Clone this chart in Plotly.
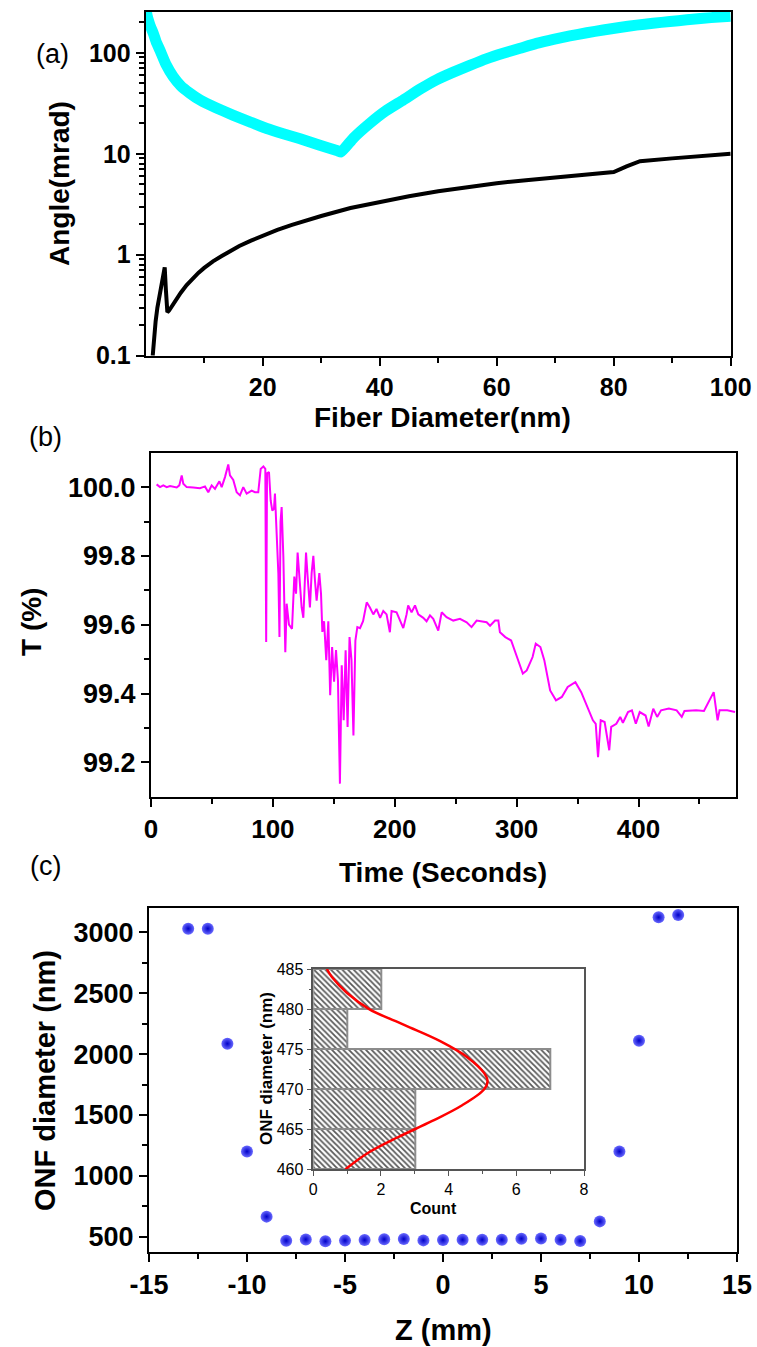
import plotly.graph_objects as go

W, H = 757, 1347

# ---------------- Panel (a) data ----------------
cyan_x = [0.1, 0.17, 0.7, 1.3, 1.8, 2.44, 3.5, 4.7, 6.0, 7.5, 9.3, 12.0, 15.0, 18.0, 20.7, 23.5,
          26.4, 29.5, 32.8, 33.4, 35.5, 38.3, 41.0, 44.0, 47.0, 49.7, 52.5, 55.4, 58.2, 61.1,
          64.0, 66.8, 69.7, 72.5, 75.4, 78.2, 81.0, 83.9, 86.7, 89.6, 92.5, 95.3, 98.0, 100.0]
cyan_y = [320, 246, 190, 156, 128, 106, 76, 58, 47, 40, 34, 28.5, 24, 20.5, 17.8, 15.8,
          14.1, 12.3, 10.7, 10.4, 14.3, 20, 26.5, 34, 44, 54, 64, 75, 87, 99,
          111, 124, 136, 147, 158, 168, 178, 188, 196, 204, 212, 220, 226, 230]

black_x = [1.2, 1.4, 1.7, 2.0, 2.4, 2.8, 3.1, 3.25, 3.45, 3.7, 4.0, 4.5, 5, 6, 7, 8, 9, 10,
           11.5, 13, 14.5, 16, 18, 20, 22.5, 25, 27.5, 30, 35, 40, 45, 50, 55, 60, 65, 70,
           75, 80, 82.2, 84.5, 90, 95, 100]
black_y = [0.1, 0.15, 0.22, 0.3, 0.42, 0.56, 0.7, 0.75, 0.45, 0.27, 0.28, 0.31, 0.35, 0.42,
           0.5, 0.58, 0.66, 0.74, 0.86, 0.97, 1.09, 1.22, 1.38, 1.55, 1.76, 1.98, 2.2, 2.42,
           2.9, 3.35, 3.8, 4.25, 4.68, 5.1, 5.48, 5.85, 6.22, 6.6, 7.5, 8.45, 9.0, 9.5, 10.0]

a_yticks = [0.1, 1, 10, 100]
a_yticktext = ["0.1", "1", "10", "100"]
a_xticks = [20, 40, 60, 80, 100]

# ---------------- Panel (b) data ----------------
time_s = [4.6, 7.4, 10.1, 12.9, 15.6, 18.3, 21.1, 23.2, 25.2, 26.5, 29.3, 34.7, 40.2, 44.3, 47.0,
          49.8, 52.5, 56.1, 58.0, 60.7, 63.4, 64.8, 67.5, 70.3, 73.0, 75.7, 78.5, 82.6, 85.3,
          88.0, 90.0, 92.2, 93.8, 94.5, 95.2, 96.8, 98.2, 99.5, 100.9, 101.7, 103.1, 104.5,
          105.4, 106.3, 107.2, 108.6, 110.2, 111.3, 113.2, 115.7, 117.6, 119.0, 120.3, 122.2,
          123.6, 125.0, 127.2, 128.5, 130.4, 131.8, 133.2, 134.5, 135.9, 138.1, 139.5, 140.6,
          142.0, 143.8, 145.5, 147.0, 148.6, 150.2, 151.8, 153.4, 155.0, 156.5, 158.1, 159.7,
          161.3, 162.9, 164.5, 166.1, 167.7, 169.3, 171.5, 174.0, 177.0, 179.6, 182.4, 185.0,
          188.0, 190.6, 193.3, 196.0, 197.4, 201.5, 204.3, 207.0, 209.7, 211.0, 213.8, 216.6,
          219.3, 223.4, 226.1, 228.9, 231.6, 235.7, 238.5, 242.5, 248.0, 253.5, 259.0, 263.0,
          267.2, 275.4, 278.2, 282.3, 285.0, 286.3, 290.7, 295.5, 300.3, 305.1, 308.3, 313.1,
          315.7, 319.5, 322.7, 327.5, 332.3, 337.1, 341.9, 348.2, 353.0, 359.4, 362.6, 364.9,
          366.8, 369.0, 372.2, 376.0, 377.6, 381.8, 385.0, 387.2, 391.4, 394.6, 397.8, 401.0,
          405.8, 408.3, 412.1, 415.3, 418.5, 424.9, 431.3, 435.5, 437.7, 447.3, 453.7, 461.7,
          464.9, 466.5, 472.8, 479.2]
trans_pct = [100.008, 100.000, 100.005, 100.000, 100.003, 100.002, 99.999, 100.005, 100.034,
             100.010, 100.000, 99.999, 99.997, 100.002, 99.985, 100.005, 99.995, 100.017,
             100.000, 100.029, 100.066, 100.034, 100.021, 99.985, 99.976, 100.000, 99.981,
             99.990, 99.985, 99.985, 100.053, 100.060, 100.053, 99.550, 100.040, 100.044,
             99.961, 99.932, 99.937, 99.981, 99.845, 99.748, 99.564, 99.900, 99.942, 99.797,
             99.520, 99.661, 99.600, 99.588, 99.740, 99.690, 99.810, 99.700, 99.650, 99.620,
             99.810, 99.740, 99.650, 99.750, 99.800, 99.730, 99.670, 99.750, 99.690, 99.579,
             99.610, 99.497, 99.610, 99.395, 99.535, 99.434, 99.526, 99.438, 99.138, 99.482,
             99.322, 99.526, 99.303, 99.564, 99.497, 99.278, 99.554, 99.593, 99.590, 99.610,
             99.665, 99.650, 99.630, 99.646, 99.620, 99.640, 99.630, 99.578, 99.640, 99.636,
             99.610, 99.590, 99.630, 99.656, 99.636, 99.656, 99.630, 99.620, 99.610, 99.627,
             99.617, 99.583, 99.636, 99.622, 99.612, 99.617, 99.607, 99.593, 99.612, 99.607,
             99.597, 99.612, 99.612, 99.578, 99.564, 99.554, 99.506, 99.458, 99.467, 99.506,
             99.545, 99.535, 99.497, 99.409, 99.380, 99.390, 99.419, 99.433, 99.404, 99.346,
             99.322, 99.312, 99.215, 99.322, 99.317, 99.235, 99.303, 99.312, 99.332, 99.315,
             99.346, 99.351, 99.312, 99.346, 99.336, 99.304, 99.356, 99.332, 99.351, 99.356,
             99.351, 99.332, 99.349, 99.351, 99.349, 99.404, 99.322, 99.351, 99.351, 99.346]

# ---------------- Panel (c) data ----------------
z_mm = [-13, -12, -11, -10, -9, -8, -7, -6, -5, -4, -3, -2, -1, 0, 1, 2, 3, 4, 5, 6, 7, 8, 9, 10, 11, 12]
onf_nm = [3030, 3030, 2085, 1200, 665, 467, 478, 463, 468, 473, 479, 481, 470, 473, 475, 475,
          476, 484, 485, 475, 465, 626, 1200, 2110, 3123, 3142]
c_xticks = [-15, -10, -5, 0, 5, 10, 15]
c_xticktext = ["-15", "-10", "-5", "0", "5", "10", "15"]

hist_centers = [462.5, 467.5, 472.5, 477.5, 482.5]
hist_counts = [3, 3, 7, 1, 2]
fit_d = [460, 462, 464, 466, 468, 470, 471, 472, 474, 476, 478, 480, 482, 484, 485]
fit_count = [0.95, 1.6, 2.5, 3.5, 4.4, 5.05, 5.15, 5.05, 4.55, 3.75, 2.7, 1.65, 1.0, 0.55, 0.4]

FONT = "Liberation Sans, Arial, sans-serif"


def px_x(p):
    return p / W


def px_y(p):
    return 1 - p / H


fig = go.Figure()

fig.add_trace(go.Scatter(x=cyan_x, y=cyan_y, mode="lines",
                         line=dict(color="#00ffff", width=11, shape="spline", smoothing=0.4),
                         xaxis="x", yaxis="y", showlegend=False))
fig.add_trace(go.Scatter(x=black_x, y=black_y, mode="lines", line=dict(color="black", width=4),
                         xaxis="x", yaxis="y", showlegend=False))

fig.add_trace(go.Scatter(x=time_s, y=trans_pct, mode="lines", line=dict(color="#ff00ff", width=2),
                         xaxis="x2", yaxis="y2", showlegend=False))

fig.add_trace(go.Scatter(x=z_mm, y=onf_nm, mode="markers",
                         marker=dict(size=12, color="#6a6aff",
                                     gradient=dict(type="radial", color="#0000c8"),
                                     line=dict(width=0)),
                         xaxis="x3", yaxis="y3", showlegend=False))

fig.add_trace(go.Bar(x=hist_counts, y=hist_centers, orientation="h", width=5, base=0,
                     marker=dict(color="white",
                                 line=dict(color="#8c8c8c", width=2),
                                 pattern=dict(shape="\\", fgcolor="#5a5a5a", bgcolor="white",
                                              size=4, solidity=0.45)),
                     xaxis="x4", yaxis="y4", showlegend=False))
fig.add_trace(go.Scatter(x=fit_count, y=fit_d, mode="lines", line=dict(color="red", width=2.5, shape="spline"),
                         xaxis="x4", yaxis="y4", showlegend=False))

common = dict(showline=True, linecolor="black", linewidth=2, mirror=True, ticks="outside",
              tickwidth=2, ticklen=8, tickcolor="black", showgrid=False, zeroline=False,
              automargin=False)

inset_common = dict(showline=True, linecolor="#555555", linewidth=1.5, mirror=True, ticks="outside",
                    tickwidth=1.2, ticklen=5, tickcolor="#555555", showgrid=False, zeroline=False,
                    automargin=False)

logminor = [v * m for v in (0.1, 1, 10, 100) for m in range(2, 10)]

fig.update_layout(
    template="none",
    width=W, height=H,
    margin=dict(l=0, r=0, t=0, b=0, pad=0, autoexpand=False),
    paper_bgcolor="white", plot_bgcolor="white",
    font=dict(family=FONT, color="black"),
    bargap=0,
    xaxis=dict(domain=[px_x(145.7), px_x(730.7)], anchor="y", range=[0, 100],
               tickmode="array", tickvals=a_xticks,
               tickfont=dict(size=25, family=FONT, weight="bold"),
               minor=dict(ticks="outside", ticklen=5, tickwidth=1.5, tickcolor="black", tickvals=[10, 30, 50, 70, 90]),
               **common),
    yaxis=dict(domain=[px_y(355.7), px_y(12)], anchor="x", type="log", range=[-1, 2.404],
               tickmode="array", tickvals=a_yticks, ticktext=a_yticktext,
               tickfont=dict(size=25, family=FONT, weight="bold"),
               minor=dict(ticks="outside", ticklen=5, tickwidth=1.5, tickcolor="black", tickvals=logminor),
               **common),
    xaxis2=dict(domain=[px_x(151), px_x(736)], anchor="y2", range=[0, 480],
                tickmode="linear", tick0=0, dtick=100,
                tickfont=dict(size=26, family=FONT, weight="bold"),
                minor=dict(ticks="outside", ticklen=5, tickwidth=1.5, tickcolor="black", dtick=50, tick0=0),
                **common),
    yaxis2=dict(domain=[px_y(796.7), px_y(452.7)], anchor="x2", range=[99.1, 100.1],
                tickmode="array", tickvals=[99.2, 99.4, 99.6, 99.8, 100.0],
                ticktext=["99.2", "99.4", "99.6", "99.8", "100.0"],
                tickfont=dict(size=27, family=FONT, weight="bold"),
                minor=dict(ticks="outside", ticklen=5, tickwidth=1.5, tickcolor="black",
                           tickvals=[99.3, 99.5, 99.7, 99.9]),
                **common),
    xaxis3=dict(domain=[px_x(149), px_x(737)], anchor="y3", range=[-15, 15],
                tickmode="array", tickvals=c_xticks, ticktext=c_xticktext,
                tickfont=dict(size=27, family=FONT, weight="bold"),
                minor=dict(ticks="outside", ticklen=5, tickwidth=1.5, tickcolor="black", dtick=2.5, tick0=-15),
                **common),
    yaxis3=dict(domain=[px_y(1251.7), px_y(908.3)], anchor="x3", range=[377, 3197],
                tickmode="array", tickvals=[500, 1000, 1500, 2000, 2500, 3000],
                tickfont=dict(size=27, family=FONT, weight="bold"),
                minor=dict(ticks="outside", ticklen=5, tickwidth=1.5, tickcolor="black",
                           tickvals=[750, 1250, 1750, 2250, 2750]),
                **common),
    xaxis4=dict(domain=[px_x(313.3), px_x(584)], anchor="y4", range=[0, 8],
                tickmode="linear", tick0=0, dtick=2,
                tickfont=dict(size=16, family=FONT),
                minor=dict(ticks="outside", ticklen=3, tickwidth=1, tickcolor="#555555", dtick=1, tick0=0),
                **inset_common),
    yaxis4=dict(domain=[px_y(1169.3), px_y(969)], anchor="x4", range=[460, 485],
                tickmode="linear", tick0=460, dtick=5,
                tickfont=dict(size=16, family=FONT),
                minor=dict(ticks="outside", ticklen=3, tickwidth=1, tickcolor="#555555", dtick=2.5, tick0=460),
                **inset_common),
)

# white background behind inset
fig.add_shape(type="rect", xref="paper", yref="paper",
              x0=px_x(313.3), x1=px_x(584), y0=px_y(1169.3), y1=px_y(969),
              fillcolor="white", line=dict(width=0), layer="below")


def label(text, x, y, size, bold=True, angle=0):
    fig.add_annotation(text=f"<b>{text}</b>" if bold else text, x=px_x(x), y=px_y(y),
                       xref="paper", yref="paper", xanchor="center", yanchor="middle",
                       showarrow=False, textangle=angle,
                       font=dict(size=size, family=FONT, color="black"))


label("(a)", 52, 54, 27, bold=False)
label("(b)", 45, 437, 27, bold=False)
label("(c)", 45, 866, 27, bold=False)

label("Angle(mrad)", 60, 184, 28, angle=-90)
label("Fiber Diameter(nm)", 442, 418, 28)
label("T (%)", 32, 622, 28, angle=-90)
label("Time (Seconds)", 443, 872, 28)
label("ONF diameter (nm)", 45, 1081, 29, angle=-90)
label("Z (mm)", 443, 1330, 29)
label("ONF diameter (nm)", 266, 1069, 17, angle=-90)
label("Count", 434, 1208, 16)

fig.write_html("out.html")
